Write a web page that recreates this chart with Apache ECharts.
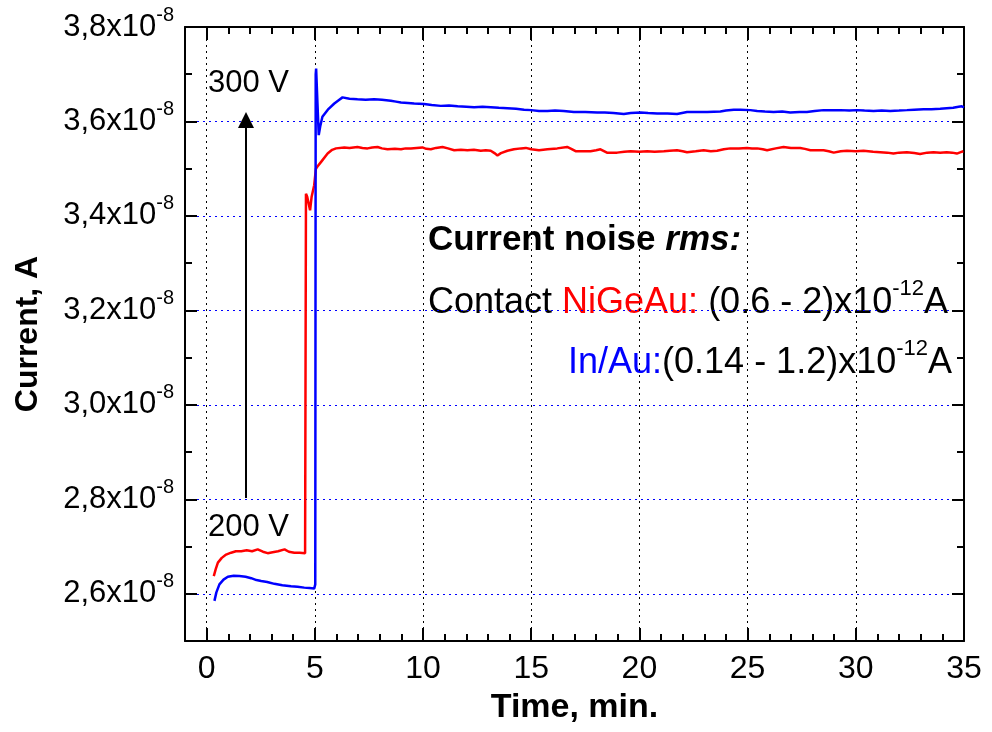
<!DOCTYPE html>
<html>
<head>
<meta charset="utf-8">
<script src="https://cdn.jsdelivr.net/npm/echarts@6/dist/echarts.min.js"></script>
<style>
html,body{margin:0;padding:0;background:#fff;}
#chart{width:992px;height:732px;}
</style>
</head>
<body>
<div id="chart"></div>
<script>
// Time in minutes; current in units of 1e-8 A
const xTicks = [0, 5, 10, 15, 20, 25, 30, 35];
const yTicks = [2.6, 2.8, 3.0, 3.2, 3.4, 3.6, 3.8];

const blueTime = [0.36,0.45,0.59,0.78,0.98,1.25,1.51,1.8,2.06,2.3,2.52,2.8,3.13,3.5,3.9,4.2,4.51,4.75,4.97,5.02,5.04,5.06,5.12,5.18,5.25,5.35,5.6,5.9,6.1,6.28,6.6,6.97,7.35,7.74,8.1,8.51,8.75,8.98,9.3,9.59,10.05,10.4,10.82,11.2,11.6,12.0,12.36,12.75,13.13,13.5,13.9,14.3,14.67,15.0,15.36,15.75,16.1,16.5,16.97,17.5,18.05,18.4,18.8,19.28,19.6,20.05,20.4,20.82,21.3,21.74,22.2,22.7,23.13,23.74,24.0,24.36,24.67,25.13,25.44,25.8,26.2,26.6,26.97,27.4,27.74,28.1,28.51,28.9,29.28,29.7,30.05,30.4,30.82,31.2,31.59,32.0,32.36,32.7,33.13,33.5,33.9,34.2,34.5,34.75,34.9,35.0];
const blueCurrent = [2.585,2.603,2.62,2.630,2.636,2.638,2.6375,2.636,2.633,2.629,2.627,2.625,2.621,2.618,2.616,2.615,2.613,2.612,2.611,2.62,3.70,3.712,3.64,3.571,3.59,3.61,3.625,3.638,3.645,3.651,3.648,3.647,3.646,3.647,3.646,3.644,3.642,3.640,3.639,3.638,3.637,3.635,3.633,3.634,3.632,3.631,3.630,3.631,3.630,3.629,3.628,3.627,3.625,3.624,3.622,3.622,3.623,3.622,3.620,3.620,3.619,3.619,3.618,3.616,3.618,3.619,3.618,3.617,3.617,3.616,3.620,3.620,3.620,3.621,3.623,3.625,3.625,3.624,3.622,3.621,3.620,3.621,3.619,3.620,3.620,3.622,3.624,3.624,3.624,3.623,3.624,3.623,3.622,3.623,3.622,3.623,3.624,3.625,3.626,3.626,3.627,3.628,3.629,3.631,3.632,3.630];

const redTime = [0.33,0.42,0.52,0.7,0.9,1.13,1.35,1.6,1.85,2.1,2.36,2.6,2.82,3.05,3.3,3.6,3.8,4.05,4.3,4.55,4.59,4.65,4.78,4.85,4.97,5.05,5.13,5.3,5.59,5.8,5.98,6.36,6.6,6.97,7.2,7.44,7.65,7.9,8.1,8.36,8.7,8.98,9.2,9.44,9.7,9.97,10.15,10.36,10.6,10.9,11.15,11.44,11.75,12.05,12.35,12.67,12.9,13.13,13.3,13.44,13.6,13.9,14.2,14.53,14.75,15.0,15.36,15.75,16.2,16.66,16.85,17.05,17.4,17.74,18.0,18.2,18.5,18.97,19.3,19.59,20.0,20.36,20.7,21.13,21.4,21.74,22.0,22.2,22.6,22.97,23.3,23.59,23.9,24.2,24.6,24.97,25.2,25.44,25.7,25.9,26.3,26.66,27.0,27.43,27.65,27.9,28.2,28.51,28.75,28.98,29.3,29.59,30.0,30.36,30.8,31.13,31.45,31.74,32.0,32.36,32.7,32.97,33.3,33.59,33.9,34.2,34.45,34.67,34.85,34.97];
const redCurrent = [2.6375,2.652,2.666,2.676,2.683,2.687,2.690,2.690,2.692,2.690,2.694,2.689,2.686,2.688,2.690,2.694,2.689,2.687,2.687,2.686,3.447,3.44,3.412,3.44,3.465,3.50,3.505,3.515,3.532,3.54,3.543,3.545,3.544,3.546,3.544,3.543,3.545,3.546,3.543,3.541,3.542,3.541,3.543,3.543,3.544,3.545,3.542,3.541,3.544,3.546,3.543,3.539,3.540,3.539,3.540,3.538,3.539,3.538,3.533,3.528,3.533,3.538,3.541,3.543,3.544,3.541,3.539,3.541,3.543,3.546,3.542,3.537,3.537,3.537,3.539,3.541,3.534,3.534,3.536,3.537,3.536,3.537,3.536,3.537,3.538,3.539,3.537,3.535,3.537,3.539,3.537,3.538,3.541,3.543,3.543,3.544,3.543,3.543,3.541,3.539,3.543,3.546,3.544,3.544,3.542,3.539,3.539,3.539,3.537,3.534,3.537,3.538,3.537,3.538,3.536,3.535,3.534,3.532,3.534,3.535,3.533,3.531,3.534,3.535,3.534,3.535,3.534,3.532,3.535,3.537];

// annotation arrow (data space): from 200 V level to 300 V level
const arrowTime = 1.82;
const arrowFrom = 2.803;
const arrowTo = 3.603;

const zip = (a, b) => a.map((v, i) => [v, b[i]]);

const FONT = '"Liberation Sans", Arial, Helvetica, sans-serif';
const X_MIN = -1, X_MAX = 35, Y_MIN = 2.5, Y_MAX = 3.8;

const chart = echarts.init(document.getElementById('chart'), null, {renderer: 'canvas'});

const axisLineStyle = {color: '#000', width: 2};
function majorX(pos, show) {
  return {
    type: 'value', min: X_MIN, max: X_MAX, position: pos,
    axisLine: {show: true, onZero: false, lineStyle: axisLineStyle},
    axisTick: {show: true, inside: true, length: 13, customValues: xTicks, lineStyle: {color: '#000', width: 2}},
    axisLabel: show ? {show: true, customValues: xTicks, fontFamily: FONT, fontSize: 32, color: '#000', margin: 12} : {show: false},
    splitLine: show ? {show: true, lineStyle: {color: '#000', type: [2, 4], width: 1}} : {show: false},
    name: show ? 'Time, min.' : '',
    nameLocation: 'middle', nameGap: 50,
    nameTextStyle: {fontFamily: FONT, fontSize: 34, fontWeight: 'bold', color: '#000'}
  };
}
function minorX(pos) {
  return {
    type: 'value', min: X_MIN, max: X_MAX, interval: 1, position: pos,
    axisLine: {show: false, onZero: false},
    axisTick: {show: true, inside: true, length: 7, lineStyle: {color: '#000', width: 2}},
    axisLabel: {show: false}, splitLine: {show: false}
  };
}
function majorY(pos, show) {
  return {
    type: 'value', min: Y_MIN, max: Y_MAX, position: pos,
    axisLine: {show: true, onZero: false, lineStyle: axisLineStyle},
    axisTick: {show: true, inside: true, length: 12, customValues: yTicks, lineStyle: {color: '#000', width: 2}},
    axisLabel: show ? {
      show: true, customValues: yTicks, margin: 11,
      formatter: v => '{m|' + v.toFixed(1).replace('.', ',') + 'x10}{s|-8}',
      rich: {
        m: {fontFamily: FONT, fontSize: 31, color: '#000', lineHeight: 44},
        s: {fontFamily: FONT, fontSize: 20, color: '#000', lineHeight: 20, verticalAlign: 'top'}
      }
    } : {show: false},
    splitLine: show ? {show: true, lineStyle: {color: '#0000ff', type: [2, 4], width: 1}} : {show: false},
    name: show ? 'Current, A' : '',
    nameLocation: 'middle', nameGap: 141,
    nameTextStyle: {fontFamily: FONT, fontSize: 32, fontWeight: 'bold', color: '#000'}
  };
}
function minorY(pos) {
  return {
    type: 'value', min: Y_MIN, max: Y_MAX, interval: 0.1, position: pos,
    axisLine: {show: false, onZero: false},
    axisTick: {show: true, inside: true, length: 7, lineStyle: {color: '#000', width: 2}},
    axisLabel: {show: false}, splitLine: {show: false}
  };
}

const option = {
  animation: false,
  backgroundColor: '#fff',
  grid: {left: 185, right: 28, top: 27, bottom: 91, containLabel: false},
  xAxis: [majorX('bottom', true), minorX('bottom'), majorX('top', false), minorX('top')],
  yAxis: [majorY('left', true), minorY('left'), majorY('right', false), minorY('right')],
  series: [
    {
      type: 'line', name: 'NiGeAu', xAxisIndex: 0, yAxisIndex: 0,
      data: zip(redTime, redCurrent), showSymbol: false, symbol: 'none',
      lineStyle: {color: '#ff0000', width: 2.5}, itemStyle: {color: '#ff0000'},
      markLine: {
        silent: true, symbol: ['none', 'triangle'], symbolSize: 16,
        label: {show: false},
        lineStyle: {color: '#000', width: 2, type: 'solid'},
        itemStyle: {color: '#000'},
        data: [[{coord: [arrowTime, arrowFrom]}, {coord: [arrowTime, arrowTo]}]]
      }
    },
    {
      type: 'line', name: 'In/Au', xAxisIndex: 0, yAxisIndex: 0,
      data: zip(blueTime, blueCurrent), showSymbol: false, symbol: 'none',
      lineStyle: {color: '#0000ff', width: 2.5}, itemStyle: {color: '#0000ff'}
    }
  ],
  graphic: [
    {type: 'text', x: 208, y: 83, style: {text: '300 V', font: '31px ' + FONT, fill: '#000', align: 'left', verticalAlign: 'middle'}},
    {type: 'text', x: 208, y: 527, style: {text: '200 V', font: '31px ' + FONT, fill: '#000', align: 'left', verticalAlign: 'middle'}},
    {type: 'text', x: 428, y: 240, style: {
      text: '{b|Current noise }{bi|rms:}', align: 'left', verticalAlign: 'middle',
      rich: {
        b: {fontFamily: FONT, fontSize: 35, fontWeight: 'bold', fill: '#000'},
        bi: {fontFamily: FONT, fontSize: 35, fontWeight: 'bold', fontStyle: 'italic', fill: '#000'}
      }
    }},
    {type: 'text', x: 428, y: 303, style: {
      text: '{m|Contact }{r|NiGeAu:}{m| (0.6 - 2)x10}{s|-12}{m|A}', align: 'left', verticalAlign: 'middle',
      rich: {
        m: {fontFamily: FONT, fontSize: 36, fill: '#000', lineHeight: 50},
        r: {fontFamily: FONT, fontSize: 36, fill: '#ff0000', lineHeight: 50},
        s: {fontFamily: FONT, fontSize: 22, fill: '#000', lineHeight: 22, verticalAlign: 'top'}
      }
    }},
    {type: 'text', x: 952, y: 363, style: {
      text: '{bl|In/Au:}{m|(0.14 - 1.2)x10}{s|-12}{m|A}', align: 'right', verticalAlign: 'middle',
      rich: {
        m: {fontFamily: FONT, fontSize: 36, fill: '#000', lineHeight: 50},
        bl: {fontFamily: FONT, fontSize: 36, fill: '#0000ff', lineHeight: 50},
        s: {fontFamily: FONT, fontSize: 22, fill: '#000', lineHeight: 22, verticalAlign: 'top'}
      }
    }}
  ]
};
chart.setOption(option);
</script>
</body>
</html>
